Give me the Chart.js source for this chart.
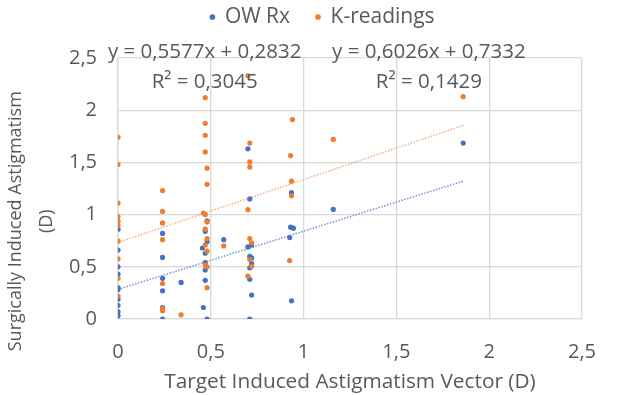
<!DOCTYPE html>
<html lang="es">
<head>
  <meta charset="UTF-8">
  <title>Surgically Induced Astigmatism</title>
  <style>
    html, body {
      margin: 0;
      padding: 0;
      background: #ffffff;
    }
    #wrap {
      width: 617px;
      height: 395px;
    }
  </style>
  <script src="https://cdn.jsdelivr.net/npm/chart.js"></script>
</head>
<body>
  <div id="wrap"><canvas id="siaChart" width="617" height="395"></canvas></div>
  <script>
    // OW Rx (blue)
    const owX = [
      0, 0, 0, 0, 0, 0, 0, 0, 0, 0,
      0.24, 0.24, 0.24, 0.24, 0.24, 0.24,
      0.34,
      0.48, 0.47, 0.48, 0.455, 0.47, 0.47, 0.47, 0.47, 0.46, 0.48,
      0.57,
      0.70, 0.71, 0.72, 0.70, 0.71, 0.72, 0.72, 0.71, 0.71, 0.72, 0.71,
      0.935, 0.93, 0.945, 0.925, 0.935,
      1.16,
      1.86
    ];
    const owY = [
      0.86, 0.66, 0.50, 0.43, 0.30, 0.28, 0.19, 0.13, 0.07, 0.03,
      0.82, 0.59, 0.39, 0.27, 0.11, 0,
      0.35,
      0.94, 0.84, 0.74, 0.68, 0.63, 0.54, 0.47, 0.37, 0.11, 0,
      0.76,
      1.63, 1.15, 0.71, 0.69, 0.60, 0.585, 0.53, 0.49, 0.38, 0.23, 0,
      1.21, 0.88, 0.87, 0.78, 0.175,
      1.05,
      1.685
    ];

    // K-readings (orange)
    const kX = [
      0, 0, 0, 0, 0, 0, 0, 0, 0, 0,
      0.24, 0.24, 0.24, 0.24, 0.24, 0.24, 0.24,
      0.34,
      0.47, 0.47, 0.47, 0.47, 0.48, 0.48, 0.46, 0.47, 0.48, 0.47, 0.48, 0.47, 0.48, 0.47, 0.48, 0.48,
      0.57,
      0.70, 0.71, 0.71, 0.71, 0.70, 0.71, 0.72, 0.71, 0.72, 0.70,
      0.94, 0.93, 0.935, 0.935, 0.925,
      1.16,
      1.86
    ];
    const kY = [
      1.74, 1.48, 1.11, 0.98, 0.935, 0.895, 0.745, 0.575, 0.39, 0.22,
      1.23, 1.03, 0.92, 0.76, 0.34, 0.10, 0.08,
      0.04,
      2.12, 1.875, 1.76, 1.60, 1.445, 1.29, 1.015, 1.0, 0.93, 0.86, 0.77, 0.71, 0.65, 0.52, 0.50, 0.30,
      0.70,
      2.33, 1.685, 1.505, 1.455, 1.047, 0.77, 0.73, 0.57, 0.505, 0.41,
      1.91, 1.565, 1.32, 1.18, 0.56,
      1.72,
      2.13
    ];

    // linear trendlines (end points)
    const trendX = [0, 1.86];
    const owTrendY = [0.2832, 1.3205];
    const kTrendY = [0.7332, 1.8540];

    const tickLabels = ['0', '0,5', '1', '1,5', '2', '2,5'];
    const owEquation = ['y = 0,5577x + 0,2832', 'R² = 0,3045'];
    const kEquation = ['y = 0,6026x + 0,7332', 'R² = 0,1429'];

    const BLUE = '#4472C4';
    const ORANGE = '#ED7D31';
    const TEXT = '#595959';
    const GRID = '#d9d9d9';
    const FONT = "'Open Sans', sans-serif";

    const toPoints = (xs, ys) => xs.map((x, i) => ({ x: x, y: ys[i] }));

    // equations written above the plot area, like Excel does
    const trendLabels = {
      id: 'trendLabels',
      afterLayout(chart, args, opts) {
        // legend sits a bit right of the canvas centre in the original
        chart.legend.left += opts.legendShift;
        chart.legend.right += opts.legendShift;
      },
      afterDatasetsDraw(chart, args, opts) {
        const ctx = chart.ctx;
        const xs = chart.scales.x;
        const top = chart.chartArea.top;
        ctx.save();
        ctx.fillStyle = TEXT;
        ctx.font = opts.size + 'px ' + FONT;
        ctx.textAlign = 'center';
        ctx.textBaseline = 'alphabetic';
        opts.items.forEach(item => {
          const cx = xs.getPixelForValue(item.at);
          item.lines.forEach((line, i) => {
            ctx.fillText(line, cx, top + i * opts.gap);
          });
        });
        ctx.restore();
      }
    };

    const ctx = document.getElementById('siaChart').getContext('2d');
    new Chart(ctx, {
      type: 'scatter',
      data: {
        datasets: [
          {
            label: 'OW Rx',
            data: toPoints(owX, owY),
            backgroundColor: BLUE,
            borderColor: BLUE,
            pointRadius: 2.6,
            pointBorderWidth: 0,
            order: 3
          },
          {
            label: 'K-readings',
            data: toPoints(kX, kY),
            backgroundColor: ORANGE,
            borderColor: ORANGE,
            pointRadius: 2.6,
            pointBorderWidth: 0,
            order: 2
          },
          {
            label: 'trend OW',
            data: toPoints(trendX, owTrendY),
            showLine: true,
            borderColor: 'rgba(68, 114, 196, 0.75)',
            borderWidth: 1.5,
            borderDash: [1.5, 1.5],
            pointRadius: 0,
            order: 1
          },
          {
            label: 'trend K',
            data: toPoints(trendX, kTrendY),
            showLine: true,
            borderColor: 'rgba(237, 125, 49, 0.6)',
            borderWidth: 1.5,
            borderDash: [1.5, 1.5],
            pointRadius: 0,
            order: 0
          }
        ]
      },
      options: {
        responsive: false,
        animation: false,
        devicePixelRatio: 1,
        layout: {
          padding: { top: -19.5, left: 0, right: 16, bottom: 0 }
        },
        plugins: {
          legend: {
            position: 'top',
            labels: {
              usePointStyle: true,
              pointStyle: 'circle',
              boxWidth: 4,
              boxHeight: 4,
              padding: 26,
              color: TEXT,
              font: { family: FONT, size: 21 },
              filter: item => item.datasetIndex < 2,
              sort: (a, b) => a.datasetIndex - b.datasetIndex
            }
          },
          // empty title used as a spacer between legend and plot
          title: {
            display: true,
            text: '',
            weight: 500,
            padding: 0,
            font: { size: 20.5, lineHeight: 1 }
          },
          tooltip: { enabled: false },
          trendLabels: {
            size: 20.5,
            gap: 30,
            legendShift: 22,
            items: [
              { at: 0.467, lines: owEquation },
              { at: 1.675, lines: kEquation }
            ]
          }
        },
        scales: {
          x: {
            type: 'linear',
            min: 0,
            max: 2.5,
            afterFit: scale => { scale.height = 76; },
            grid: { color: GRID, lineWidth: 1.3, drawTicks: false },
            border: { color: GRID, width: 1.3 },
            ticks: {
              stepSize: 0.5,
              padding: 21,
              color: TEXT,
              font: { family: FONT, size: 20 },
              callback: (v, i) => tickLabels[i]
            },
            title: {
              display: true,
              text: 'Target Induced Astigmatism Vector (D)',
              color: TEXT,
              font: { family: FONT, size: 20.8 },
              padding: 0
            }
          },
          y: {
            type: 'linear',
            min: 0,
            max: 2.5,
            afterFit: scale => { scale.width = 118; },
            grid: { color: GRID, lineWidth: 1.3, drawTicks: false },
            border: { color: GRID, width: 1.3 },
            ticks: {
              stepSize: 0.5,
              padding: 21,
              color: TEXT,
              font: { family: FONT, size: 20 },
              callback: (v, i) => tickLabels[i]
            },
            title: {
              display: true,
              text: ['Surgically Induced Astigmatism' + '              ', '(D)' + '              '],
              color: TEXT,
              font: { family: FONT, size: 18, lineHeight: 1.72 },
              padding: { top: 0, bottom: 0 }
            }
          }
        }
      },
      plugins: [trendLabels]
    });
  </script>
</body>
</html>
